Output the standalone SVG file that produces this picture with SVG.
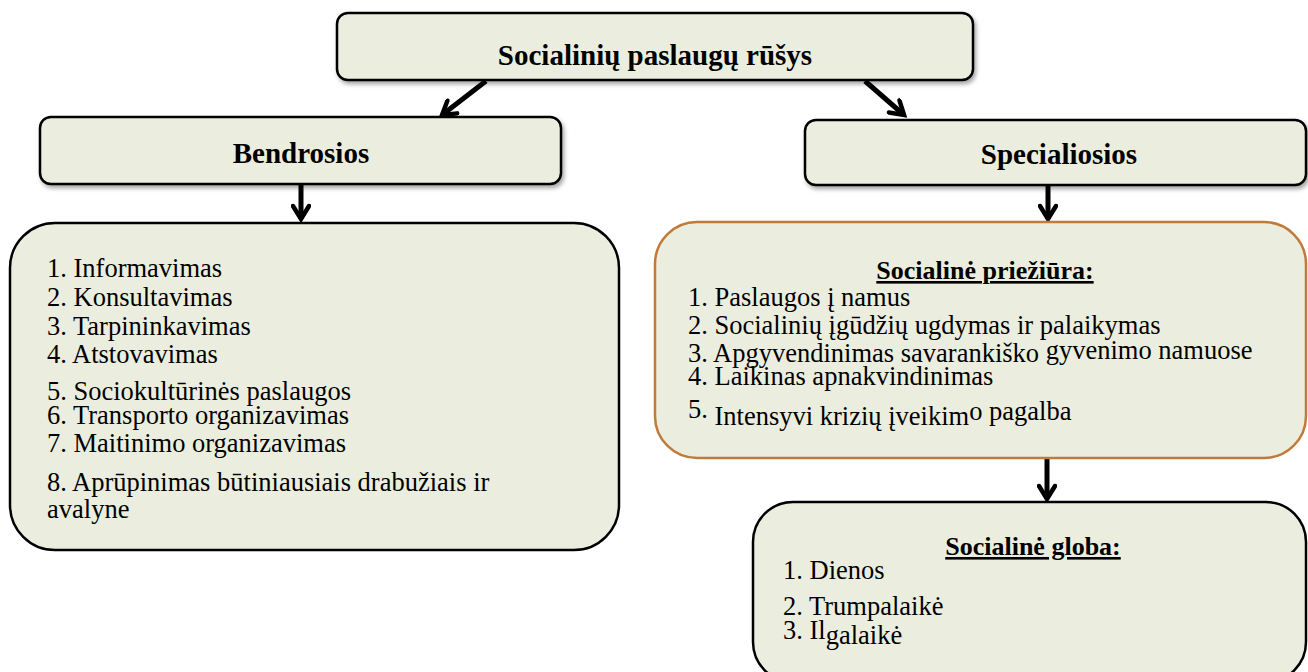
<svg xmlns="http://www.w3.org/2000/svg" width="1308" height="672" viewBox="0 0 1308 672">
<defs>
<filter id="sh" x="-5%" y="-10%" width="112%" height="130%">
<feDropShadow dx="2" dy="3" stdDeviation="2" flood-color="#000" flood-opacity="0.35"/>
</filter>
<marker id="ah" viewBox="0 0 20 20" refX="16" refY="10" markerWidth="20" markerHeight="20" markerUnits="userSpaceOnUse" orient="auto">
<path d="M3,2 L16,10 L3,18" fill="none" stroke="#000" stroke-width="4.5" stroke-linecap="round"/>
</marker>
<style>
.box{fill:#EBEEDE;stroke:#000;stroke-width:2.5}
.obox{fill:#EBEEDE;stroke:#C07A3C;stroke-width:2.5}
.h{font-family:"Liberation Serif",serif;font-weight:bold;font-size:29px;fill:#000;text-anchor:middle}
.sh{font-family:"Liberation Serif",serif;font-weight:bold;font-size:26px;fill:#000;text-anchor:middle;text-decoration:underline}
.t{font-family:"Liberation Serif",serif;font-size:26.5px;fill:#000}
.c{fill:none;stroke:#000;stroke-width:5}
</style>
</defs>
<g id="connectors">
<line class="c" x1="486" y1="81" x2="442" y2="115" marker-end="url(#ah)"/>
<line class="c" x1="865" y1="81" x2="904" y2="115" marker-end="url(#ah)"/>
<line class="c" x1="301" y1="185" x2="301" y2="219" marker-end="url(#ah)"/>
<line class="c" x1="1048" y1="186" x2="1048" y2="219" marker-end="url(#ah)"/>
<line class="c" x1="1047" y1="459" x2="1047" y2="499" marker-end="url(#ah)"/>
</g>
<g id="root">
<rect class="box" x="337" y="13" width="636" height="67" rx="11" filter="url(#sh)"/>
<text class="h" x="655" y="65">Socialinių paslaugų rūšys</text>
</g>
<g id="bendrosios">
<rect class="box" x="40" y="117" width="521" height="67" rx="11" filter="url(#sh)"/>
<text class="h" x="301" y="163">Bendrosios</text>
</g>
<g id="specialiosios">
<rect class="box" x="805" y="120" width="501" height="65" rx="11" filter="url(#sh)"/>
<text class="h" x="1059" y="164">Specialiosios</text>
</g>
<g id="bendrosios-list">
<rect class="box" x="10" y="223" width="609" height="327" rx="45"/>
<text class="t" x="47" y="277">1.  Informavimas</text>
<text class="t" x="47" y="306">2. Konsultavimas</text>
<text class="t" x="47" y="335">3. Tarpininkavimas</text>
<text class="t" x="47" y="363">4. Atstovavimas</text>
<text class="t" x="47" y="400">5. Sociokultūrinės paslaugos</text>
<text class="t" x="47" y="424">6. Transporto organizavimas</text>
<text class="t" x="47" y="452">7. Maitinimo organizavimas</text>
<text class="t" x="47" y="491">8. Aprūpinimas būtiniausiais drabužiais ir</text>
<text class="t" x="47" y="518">avalyne</text>
</g>
<g id="prieziura">
<rect class="obox" x="655" y="222" width="651" height="236" rx="42"/>
<text class="sh" x="985" y="279">Socialinė priežiūra:</text>
<text class="t" x="688" y="306">1. Paslaugos į namus</text>
<text class="t" x="688" y="334">2. Socialinių įgūdžių ugdymas ir palaikymas</text>
<text class="t" x="688" y="362">3. Apgyvendinimas savarankiško <tspan dy="-3">gyvenimo namuose</tspan></text>
<text class="t" x="688" y="385">4. Laikinas apnakvindinimas</text>
<text class="t" x="688" y="418">5. <tspan dy="7">Intensyvi krizių įveikim</tspan><tspan dy="-5">o pagalba</tspan></text>
</g>
<g id="globa">
<rect class="box" x="753" y="502" width="553" height="180" rx="40"/>
<text class="sh" x="1033" y="555">Socialinė globa:</text>
<text class="t" x="783" y="579">1. Dienos</text>
<text class="t" x="783" y="615">2. Trumpalaikė</text>
<text class="t" x="783" y="639">3. Il<tspan dy="5">galaikė</tspan></text>
</g>
</svg>
